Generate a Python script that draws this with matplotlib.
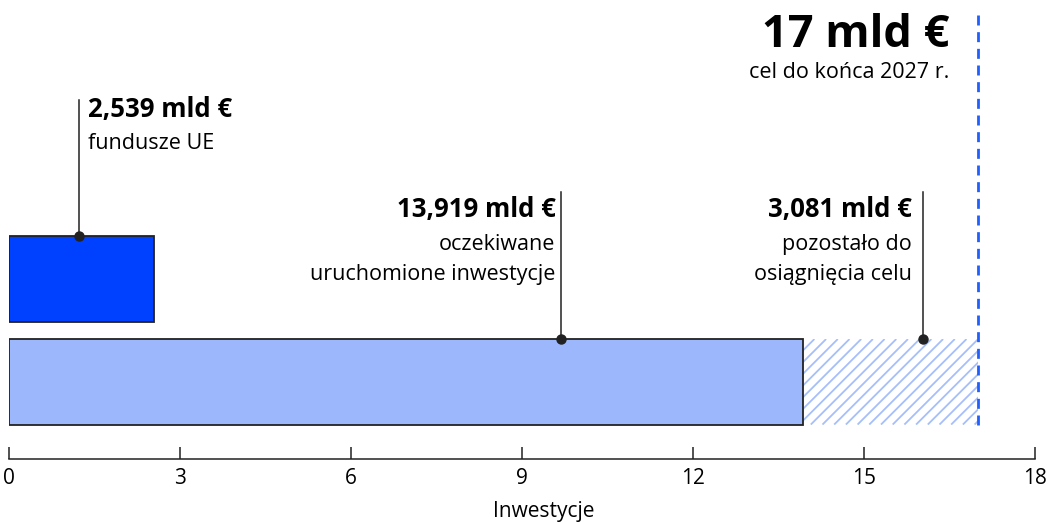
import matplotlib
matplotlib.use("Agg")
import matplotlib.pyplot as plt
import numpy as np

# Values in billions of euro
eu_funds = 2.539
expected_investment = 13.919
target = 17.0
remaining = round(target - expected_investment, 3)

x_ticks = [0, 3, 6, 9, 12, 15, 18]
x_label = "Inwestycje"

EU_BLUE = "#0040ff"
LIGHT_BLUE = "#9db7fd"
HATCH_BLUE = "#a6bffb"
TARGET_BLUE = "#1f5fff"
DARK = "#222222"

plt.rcParams['font.family'] = ['Open Sans', 'DejaVu Sans']

W, H = 1049, 523
fig = plt.figure(figsize=(W / 100, H / 100), dpi=100)
ax = fig.add_axes([9.3 / W, 1 - 458.7 / H, (1035.3 - 9.3) / W, 458.7 / H])

ax.set_xlim(0, 18)
ax.set_ylim(-0.7466, 3.7068)


def py(p):
    # vertical pixel position (from the top) -> y data value
    return (381.8 - p) / 103.0


BAR_H = 0.83
ax.barh(1, eu_funds, height=BAR_H, color=EU_BLUE, edgecolor=DARK, linewidth=1.3, zorder=3)
ax.barh(0, expected_investment, height=BAR_H, color=LIGHT_BLUE, edgecolor=DARK, linewidth=1.3, zorder=3)
rest = ax.barh(0, remaining, left=expected_investment, height=BAR_H, color="none",
               linewidth=0, zorder=2)[0]

# diagonal hatching of the remaining part
px_x = 18 / (1035.3 - 9.3)
bar_px = BAR_H * 103.0
for x0 in np.arange(expected_investment - bar_px * px_x, target + 0.5, 11.7 * px_x):
    ln, = ax.plot([x0, x0 + bar_px * px_x], [-BAR_H / 2, BAR_H / 2],
                  color=HATCH_BLUE, linewidth=1.3, zorder=2, solid_capstyle="butt")
    ln.set_clip_path(rest)

# target line
ax.plot([target, target], [-BAR_H / 2, py(12)], color=TARGET_BLUE,
        dashes=(3.6, 2.4), linewidth=2, zorder=4)


def leader(x, y0, y1):
    ax.plot([x, x], [y0, y1], color=DARK, linewidth=1.1, zorder=5)
    ax.plot(x, y0, "o", color=DARK, markersize=6.5, zorder=6)


def fmt(v):
    return f"{v:.3f}".replace(".", ",") + " mld €"


VAL_FS = 18.5
DESC_FS = 15.5

# EU funds label
x_eu = eu_funds * 0.48
leader(x_eu, 1 + BAR_H / 2, py(100))
ax.text(x_eu + 0.165, py(117), fmt(eu_funds), fontsize=VAL_FS, fontweight="bold",
        ha="left", va="baseline")
ax.text(x_eu + 0.165, py(149), "fundusze UE", fontsize=DESC_FS, ha="left", va="baseline")

# expected investment label
x_inv = expected_investment * 0.696
leader(x_inv, BAR_H / 2, py(192))
ax.text(x_inv - 0.105, py(217), fmt(expected_investment), fontsize=VAL_FS, fontweight="bold",
        ha="right", va="baseline")
ax.text(x_inv - 0.105, py(250), "oczekiwane", fontsize=DESC_FS, ha="right", va="baseline")
ax.text(x_inv - 0.105, py(280), "uruchomione inwestycje", fontsize=DESC_FS, ha="right", va="baseline")

# remaining label
x_rem = expected_investment + remaining * 0.685
leader(x_rem, BAR_H / 2, py(192))
ax.text(x_rem - 0.19, py(217), fmt(remaining), fontsize=VAL_FS, fontweight="bold",
        ha="right", va="baseline")
ax.text(x_rem - 0.19, py(250), "pozostało do", fontsize=DESC_FS, ha="right", va="baseline")
ax.text(x_rem - 0.19, py(280), "osiągnięcia celu", fontsize=DESC_FS, ha="right", va="baseline")

# target label
ax.text(target - 0.51, py(47), f"{target:.0f} mld €", fontsize=32.5, fontweight="bold",
        ha="right", va="baseline")
ax.text(target - 0.51, py(78), "cel do końca 2027 r.", fontsize=DESC_FS, ha="right", va="baseline")

# axis styling
for side in ["top", "left", "right"]:
    ax.spines[side].set_visible(False)
ax.spines["bottom"].set_color(DARK)
ax.spines["bottom"].set_linewidth(1.1)
ax.set_yticks([])
ax.set_xticks(x_ticks)
ax.set_xticklabels([str(t) for t in x_ticks], fontsize=15)
ax.tick_params(axis="x", direction="in", length=9, width=1.1, color=DARK, pad=7)
ax.patch.set_alpha(0)

fig.text(544 / W, 1 - 517.5 / H, x_label, fontsize=15, ha="center", va="baseline")

fig.savefig("out.png", dpi=100)
